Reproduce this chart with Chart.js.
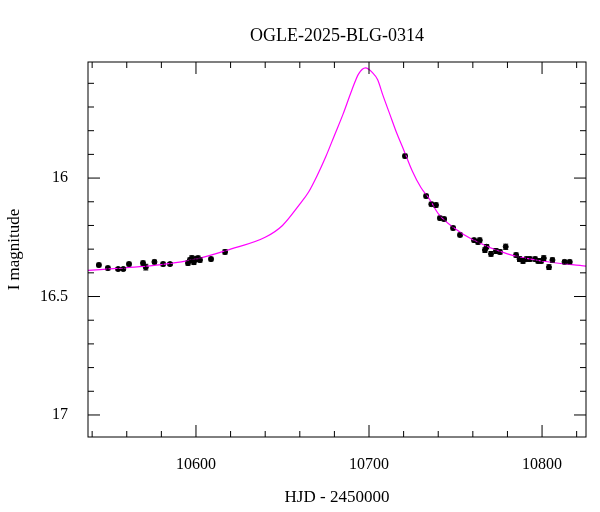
<!DOCTYPE html>
<html><head><meta charset="utf-8">
<script src="https://cdn.jsdelivr.net/npm/chart.js@4/dist/chart.umd.min.js"></script>
<style>html,body{margin:0;padding:0;background:#fff}</style>
</head><body><canvas id="c" width="600" height="512"></canvas>
<script>
const chartTitle = "OGLE-2025-BLG-0314";
const xTitle = "HJD - 2450000";
const yTitle = "I magnitude";
const obsHJD = [10543.9,10549.1,10555,10558,10561.3,10569.4,10571,10576,10581,10585,10595.4,10596.5,10597.6,10598.8,10600,10601.2,10602.3,10608.7,10616.8,
 10720.8,10733,10736,10738.7,10741,10743.4,10748.6,10752.6,10760.7,10763,10764,10767,10768,10770.5,10773.4,10775.7,10779,10785,10787,10789,10791,10793,10796,10797.7,10799.5,10801,10804,10806,10813,10816];
const obsMag = [16.367,16.38,16.384,16.384,16.363,16.359,16.376,16.354,16.363,16.363,16.359,16.346,16.338,16.355,16.342,16.338,16.346,16.342,16.312,
 15.907,16.076,16.11,16.114,16.169,16.173,16.211,16.24,16.262,16.27,16.262,16.304,16.29,16.32,16.308,16.312,16.29,16.325,16.342,16.35,16.342,16.342,16.342,16.35,16.35,16.338,16.376,16.346,16.354,16.354];
const obsErr = [0.008,0.008,0.007,0.007,0.008,0.009,0.012,0.008,0.008,0.007,0.009,0.009,0.01,0.01,0.01,0.009,0.009,0.008,0.009,
 0.008,0.008,0.008,0.009,0.008,0.008,0.008,0.008,0.008,0.009,0.009,0.01,0.009,0.01,0.01,0.009,0.011,0.009,0.01,0.01,0.009,0.009,0.009,0.009,0.009,0.01,0.01,0.009,0.008,0.008];
const modelHJD = [10537,10560,10580,10600,10620,10640,10650,10660,10665,10670,10675,10680,10685,10690,10694,10698,10702,10705,10708,10712,10716,10720,10725,10730,10735,10740,10750,10760,10780,10800,10826];
const modelMag = [16.39,16.378,16.365,16.342,16.30,16.25,16.20,16.11,16.06,15.99,15.91,15.82,15.73,15.63,15.56,15.535,15.555,15.585,15.65,15.73,15.81,15.88,15.97,16.04,16.09,16.15,16.215,16.26,16.32,16.35,16.372];
const xMajor = [10600,10700,10800];
const yMajor = [16,16.5,17];

const serif = "'Liberation Serif','DejaVu Serif',serif";
const L=88,R=586,T=62,B=437;
const frame = {
  id:'frame',
  afterDraw(ch){
    const c=ch.ctx,x=ch.scales.x,y=ch.scales.y;
    c.save();
    c.strokeStyle='#000';c.lineWidth=1;
    obsHJD.forEach((h,i)=>{
      const px=x.getPixelForValue(h),p1=y.getPixelForValue(obsMag[i]-obsErr[i]),p2=y.getPixelForValue(obsMag[i]+obsErr[i]);
      c.beginPath();c.moveTo(px,p1);c.lineTo(px,p2);c.moveTo(px-2.5,p1);c.lineTo(px+2.5,p1);c.moveTo(px-2.5,p2);c.lineTo(px+2.5,p2);c.stroke();
    });
    const a=ch.chartArea;
    c.strokeRect(a.left,a.top,a.right-a.left,a.bottom-a.top);
    for(let v=10540;v<=10820;v+=20){
      const px=x.getPixelForValue(v);const len=(v%100===0)?12:6;
      c.beginPath();c.moveTo(px,a.bottom);c.lineTo(px,a.bottom-len);c.moveTo(px,a.top);c.lineTo(px,a.top+len);c.stroke();
    }
    for(let k=156;k<=170;k++){
      const py=y.getPixelForValue(k/10);const len=(k%5===0)?12:6;
      c.beginPath();c.moveTo(a.left,py);c.lineTo(a.left+len,py);c.moveTo(a.right,py);c.lineTo(a.right-len,py);c.stroke();
    }
    c.fillStyle='#000';c.font='18px '+serif;c.textAlign='center';c.textBaseline='middle';
    c.fillText(chartTitle,337,36);
    c.restore();
  }
};
new Chart(document.getElementById('c'),{
  type:'scatter',
  data:{datasets:[
    {type:'line',data:modelHJD.map((h,i)=>({x:h,y:modelMag[i]})),borderColor:'#ff00ff',borderWidth:1.2,pointRadius:0,cubicInterpolationMode:'monotone',fill:false},
    {data:obsHJD.map((h,i)=>({x:h,y:obsMag[i]})),backgroundColor:'#000',borderColor:'#000',pointRadius:2.5}
  ]},
  options:{responsive:false,animation:false,devicePixelRatio:1,
    layout:{padding:{left:0,right:600-R,top:T,bottom:0}},
    plugins:{legend:{display:false},tooltip:{enabled:false}},
    scales:{
      x:{type:'linear',min:10537.6,max:10825.4,grid:{display:false},border:{display:false},
        afterFit(s){s.height=512-B;},
        afterBuildTicks(s){s.ticks=xMajor.map(v=>({value:v}));},
        ticks:{callback:v=>String(v),font:{family:serif,size:16},color:'#000',padding:10,maxRotation:0},
        title:{display:true,text:xTitle,font:{family:serif,size:17},color:'#000',padding:{top:4}}},
      y:{type:'linear',reverse:true,min:15.51,max:17.093,grid:{display:false},border:{display:false},
        afterFit(s){s.width=L;},
        afterBuildTicks(s){s.ticks=yMajor.map(v=>({value:v}));},
        ticks:{callback:v=>String(v),font:{family:serif,size:16},color:'#000',padding:12},
        title:{display:true,text:yTitle,font:{family:serif,size:17},color:'#000',padding:{bottom:4}}}
    }
  },
  plugins:[frame]
});
</script>
</body></html>
